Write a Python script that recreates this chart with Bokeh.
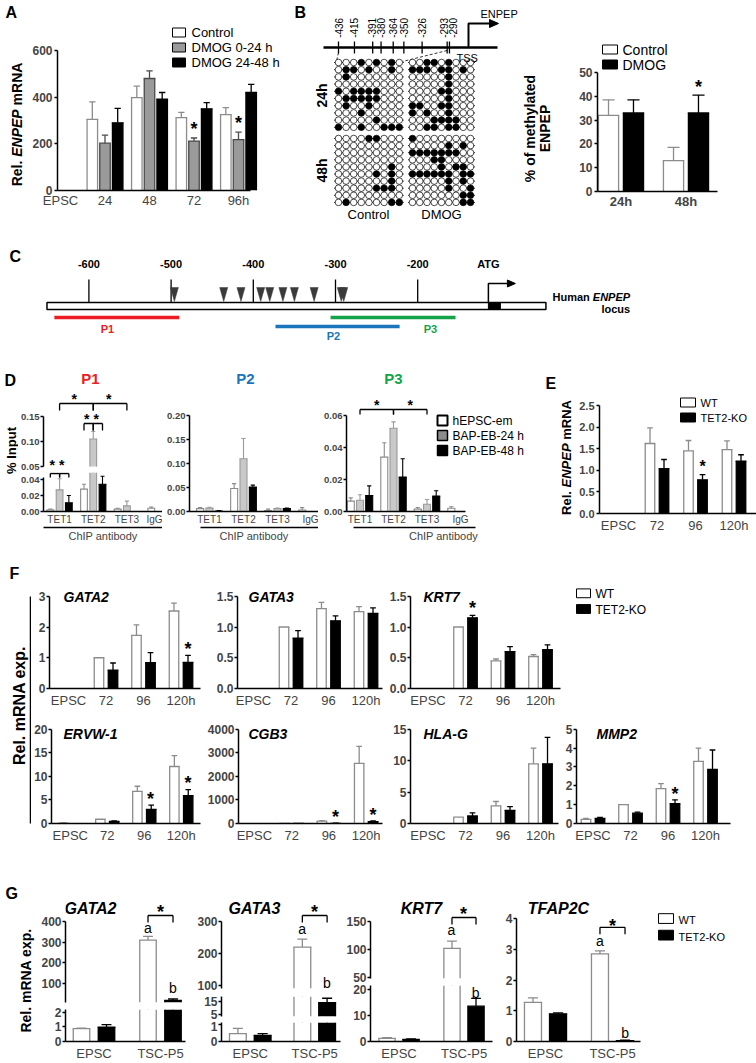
import math
from bokeh.plotting import figure
from bokeh.models import Range1d, LinearAxis, FixedTicker, Label
from bokeh.layouts import row, column
from bokeh.embed import file_html
from bokeh.resources import INLINE

FONT = "Liberation Sans"
WT_LINE = "#8c8c8c"

# ---------------- Panel A ----------------
A_groups = ["EPSC", "24", "48", "72", "96h"]
A_control = [0, 305, 398, 312, 325]
A_control_err = [0, 380, 447, 335, 355]
A_dmog_0_24 = [0, 203, 480, 212, 218]
A_dmog_0_24_err = [0, 237, 513, 225, 250]
A_dmog_24_48 = [0, 290, 392, 350, 420]
A_dmog_24_48_err = [0, 352, 420, 377, 455]
A_star_groups = [3, 4]
A_yticks = [0, 200, 400, 600]
A_legend = ["Control", "DMOG 0-24 h", "DMOG 24-48 h"]

# ---------------- Panel B ----------------
B_cpg_sites = [-436, -415, -391, -380, -364, -350, -326, -293, -290]
B_ctrl_24h = ["000101010", "011010010", "010000000", "000000000", "101111000",
              "011111000", "010010000", "000100000", "000001000", "100100111"]
B_dmog_24h = ["001101000", "111011010", "000001000", "000001000", "000011000",
              "000001000", "110011000", "101001000", "000111100", "001101100"]
B_ctrl_48h = ["000011000", "000000000", "000000000", "000000000", "000000010",
              "000001010", "000000010", "000001110", "000000000", "010000011"]
B_dmog_48h = ["100000000", "000001010", "111111100", "000110000", "000010110",
              "111111011", "000001010", "000001001", "000000011", "000000011"]
B_groups = ["24h", "48h"]
B_control = [32, 13]
B_control_err = [38.5, 18.5]
B_dmog = [33, 33]
B_dmog_err = [38.5, 40.5]
B_star_groups = [1]
B_yticks = [0, 10, 20, 30, 40, 50]

# ---------------- Panel C ----------------
C_ticks_bp = [-600, -500, -400, -300, -200]
C_cpg_bp = [-496, -436, -415, -391, -380, -364, -350, -326, -293, -290]
C_atg_bp = -114
C_locus_bp = [-651, -44]
C_primer_names = ["P1", "P2", "P3"]
C_primer_start = [-642, -373, -306]
C_primer_end = [-490, -222, -154]
C_primer_colors = ["#ee1c24", "#1b75bb", "#13a44a"]

# ---------------- Panel D ----------------
D_targets = ["TET1", "TET2", "TET3", "IgG"]
D_series = ["hEPSC-em", "BAP-EB-24 h", "BAP-EB-48 h"]
D_P1_em = [0.002, 0.028, 0.003, 0.004]
D_P1_em_err = [0.003, 0.034, 0.004, 0.0055]
D_P1_24 = [0.027, 0.105, 0.007, 0.0]
D_P1_24_err = [0.041, 0.12, 0.013, 0.0]
D_P1_48 = [0.011, 0.034, 0.0, 0.0]
D_P1_48_err = [0.02, 0.044, 0.0, 0.0]
D_P2_em = [0.006, 0.048, 0.002, 0.003]
D_P2_em_err = [0.008, 0.058, 0.005, 0.008]
D_P2_24 = [0.007, 0.11, 0.006, 0.0]
D_P2_24_err = [0.009, 0.152, 0.007, 0.0]
D_P2_48 = [0.001, 0.051, 0.006, 0.0]
D_P2_48_err = [0.002, 0.055, 0.007, 0.0]
D_P3_em = [0.0065, 0.034, 0.0015, 0.002]
D_P3_em_err = [0.0085, 0.043, 0.0025, 0.003]
D_P3_24 = [0.007, 0.052, 0.0045, 0.0]
D_P3_24_err = [0.0105, 0.056, 0.0075, 0.0]
D_P3_48 = [0.010, 0.0215, 0.0097, 0.0]
D_P3_48_err = [0.016, 0.033, 0.013, 0.0]

# ---------------- Panel E ----------------
E_groups = ["EPSC", "72", "96", "120h"]
E_wt = [0, 1.62, 1.45, 1.48]
E_wt_err = [0, 1.98, 1.69, 1.68]
E_ko = [0, 1.04, 0.78, 1.21]
E_ko_err = [0, 1.25, 0.9, 1.36]
E_star_groups = [2]
E_yticks = [0, 0.5, 1.0, 1.5, 2.0, 2.5]

# ---------------- Panel F ----------------
F_groups = ["EPSC", "72", "96", "120h"]
F_GATA2_wt = [0, 1.0, 1.73, 2.52]
F_GATA2_wt_err = [0, 1.0, 2.07, 2.78]
F_GATA2_ko = [0, 0.6, 0.84, 0.85]
F_GATA2_ko_err = [0, 0.83, 1.17, 1.08]
F_GATA3_wt = [0, 1.0, 1.3, 1.25]
F_GATA3_wt_err = [0, 1.0, 1.4, 1.33]
F_GATA3_ko = [0, 0.82, 1.1, 1.22]
F_GATA3_ko_err = [0, 0.94, 1.18, 1.31]
F_KRT7_wt = [0, 1.0, 0.45, 0.52]
F_KRT7_wt_err = [0, 1.0, 0.48, 0.55]
F_KRT7_ko = [0, 1.15, 0.6, 0.63]
F_KRT7_ko_err = [0, 1.19, 0.68, 0.71]
F_ERVW1_wt = [0.1, 0.9, 6.8, 12.1]
F_ERVW1_wt_err = [0.15, 0.9, 7.9, 14.4]
F_ERVW1_ko = [0, 0.45, 3.0, 5.9]
F_ERVW1_ko_err = [0, 0.55, 3.9, 7.2]
F_CGB3_wt = [0, 1, 100, 2550]
F_CGB3_wt_err = [0, 1, 125, 3270]
F_CGB3_ko = [0, 0.8, 5, 80]
F_CGB3_ko_err = [0, 0.8, 10, 110]
F_HLAG_wt = [0, 1.0, 2.8, 9.5]
F_HLAG_wt_err = [0, 1.0, 3.5, 12.0]
F_HLAG_ko = [0, 1.2, 2.1, 9.5]
F_HLAG_ko_err = [0, 1.7, 2.7, 13.7]
F_MMP2_wt = [0.22, 1.0, 1.85, 3.3]
F_MMP2_wt_err = [0.27, 1.0, 2.12, 4.0]
F_MMP2_ko = [0.27, 0.55, 1.05, 2.87]
F_MMP2_ko_err = [0.32, 0.6, 1.25, 3.9]

# ---------------- Panel G ----------------
G_groups = ["EPSC", "TSC-P5"]
G_GATA2_wt = [0.87, 310]
G_GATA2_wt_err = [0.9, 328]
G_GATA2_ko = [0.97, 18]
G_GATA2_ko_err = [1.15, 25]
G_GATA3_wt = [0.45, 220]
G_GATA3_wt_err = [0.75, 245]
G_GATA3_ko = [0.35, 14.2]
G_GATA3_ko_err = [0.45, 17.5]
G_KRT7_wt = [1.2, 102]
G_KRT7_wt_err = [1.5, 115]
G_KRT7_ko = [0.8, 13.5]
G_KRT7_ko_err = [1.0, 16.5]
G_TFAP2C_wt = [1.27, 2.85]
G_TFAP2C_wt_err = [1.42, 2.95]
G_TFAP2C_ko = [0.9, 0.03]
G_TFAP2C_ko_err = [0.93, 0.04]

# ======================================================================
WID = {" ": 278, ".": 278, "%": 889, "-": 333, "A": 722, "C": 722, "E": 667, "G": 778,
       "H": 722, "N": 722, "P": 667, "R": 722, "T": 611, "a": 556, "c": 556, "e": 556,
       "l": 278, "m": 889, "n": 611, "o": 611, "p": 611, "s": 556, "u": 611, "x": 556}


def tw(s, size):
    return sum(WID.get(ch, 600) for ch in s) * size / 1000.0


class Chart:
    def __init__(self, box, frame, xmap, ymap):
        X0, Y0, X1, Y1 = box
        FX0, FY0, FX1, FY1 = frame
        self.box = box
        self.ax, self.bx = xmap
        self.py0, self.v0, self.by = ymap
        self.ylo = self.y_of(FY1)
        self.yhi = self.y_of(FY0)
        self.p = figure(width=X1 - X0, height=Y1 - Y0,
                        x_range=Range1d(self.x_of(FX0), self.x_of(FX1)),
                        y_range=Range1d(self.ylo, self.yhi),
                        x_axis_type=None, y_axis_type=None, tools="",
                        toolbar_location=None, output_backend="svg",
                        min_border_left=FX0 - X0, min_border_right=X1 - FX1,
                        min_border_top=FY0 - Y0, min_border_bottom=Y1 - FY1)
        self.p.outline_line_color = None
        self.p.background_fill_color = "white"
        self.p.border_fill_color = "white"

    def x_of(self, px):
        return (px - self.ax) / self.bx

    def y_of(self, py):
        return self.v0 + (self.py0 - py) / self.by

    def px(self, x):
        return self.ax + x * self.bx

    def py(self, y):
        return self.py0 - (y - self.v0) * self.by


def canvas(box):
    return Chart(box, box, (0, 1), (0, 0, -1))


def iso(C):
    return column(C.p)


def lab(C, x, y, text, size=12, style="normal", color="black", align="left",
        baseline="middle", angle=0.0):
    C.p.add_layout(Label(x=x - C.box[0], y=y - C.box[1], x_units="canvas", y_units="canvas",
                         text=text, text_font=FONT, text_font_size=f"{size}px",
                         text_font_style=style, text_color=color, text_align=align,
                         text_baseline=baseline, angle=angle))


def parts_label(C, x, y, parts, size, vertical=False, anchor="center"):
    full = "".join(t for t, s in parts)
    total = tw(full, size)
    pos = -total / 2 if anchor == "center" else 0
    for t, s in parts:
        lead = len(t) - len(t.lstrip())
        trail = len(t) - len(t.rstrip())
        core = t.strip()
        pos += tw(" " * lead, size)
        cw = tw(core, size)
        if vertical:
            lab(C, x, y - pos - cw / 2, core, size, s, align="center", angle=math.pi / 2)
        else:
            lab(C, x + pos, y, core, size, s, align="left")
        pos += cw + tw(" " * trail, size)


def yaxis(C, ticks, labels, bounds, size=12, standoff=2):
    a = LinearAxis(ticker=FixedTicker(ticks=ticks), bounds=bounds,
                   major_label_overrides={t: l for t, l in zip(ticks, labels)})
    a.axis_line_width = 1.5
    a.axis_line_color = "black"
    a.major_tick_line_width = 1.5
    a.major_tick_out = 3
    a.major_tick_in = 0
    a.minor_tick_out = 0
    a.minor_tick_in = 0
    a.major_label_text_font = FONT
    a.major_label_text_font_size = f"{size}px"
    a.major_label_text_font_style = "bold"
    a.major_label_standoff = standoff
    C.p.add_layout(a, "left")


def xaxis(C, ticks, labels, bounds, size=13, style="normal", standoff=3):
    a = LinearAxis(ticker=FixedTicker(ticks=ticks), bounds=bounds,
                   major_label_overrides={t: l for t, l in zip(ticks, labels)})
    a.axis_line_width = 1.5
    a.axis_line_color = "black"
    a.major_tick_out = 0
    a.major_tick_in = 0
    a.minor_tick_out = 0
    a.minor_tick_in = 0
    a.major_label_text_font = FONT
    a.major_label_text_font_size = f"{size}px"
    a.major_label_text_font_style = style
    a.major_label_standoff = standoff
    C.p.add_layout(a, "below")


def underline_axis(C, bounds, text, size=11):
    a = LinearAxis(ticker=FixedTicker(ticks=[]), bounds=bounds, axis_label=text)
    a.axis_line_width = 1.5
    a.major_tick_out = 0
    a.major_tick_in = 0
    a.minor_tick_out = 0
    a.minor_tick_in = 0
    a.major_label_text_font_size = "0px"
    a.major_label_standoff = 0
    a.axis_label_text_font = FONT
    a.axis_label_text_font_size = f"{size}px"
    a.axis_label_text_font_style = "normal"
    a.axis_label_standoff = 2
    C.p.add_layout(a, "below")


def bars(C, xs, vals, errs, off, w, fill, line, lw=1.3, cap=0.6, floor=None):
    hi = C.yhi
    base = max(C.ylo, 0) if floor is None else floor
    keep = [(x + off, v, e) for x, v, e in zip(xs, vals, errs) if v > base and v > 0]
    if keep:
        bx = [k[0] for k in keep]
        bt = [min(k[1], hi) for k in keep]
        C.p.vbar(x=bx, top=bt, bottom=base, width=w, fill_color=fill, line_color=None)
        C.p.segment(x0=[x - w / 2 for x in bx] + [x + w / 2 for x in bx], y0=[base] * (2 * len(bx)),
                    x1=[x - w / 2 for x in bx] + [x + w / 2 for x in bx], y1=bt + bt,
                    line_color=line, line_width=lw)
        tops = [(x, t) for x, t, k in zip(bx, bt, keep) if k[1] < hi]
        if tops:
            C.p.segment(x0=[x - w / 2 for x, t in tops], y0=[t for x, t in tops],
                        x1=[x + w / 2 for x, t in tops], y1=[t for x, t in tops],
                        line_color=line, line_width=lw, line_cap="square")
    errk = [(x + off, v, e) for x, v, e in zip(xs, vals, errs) if e > v and e > base]
    if errk:
        ex = [k[0] for k in errk]
        C.p.segment(x0=ex, y0=[max(k[1], base) for k in errk], x1=ex,
                    y1=[min(k[2], hi) for k in errk], line_color=line, line_width=lw)
        caps = [(k[0], k[2]) for k in errk if k[2] < hi]
        if caps:
            C.p.segment(x0=[x - w * cap / 2 for x, e in caps], y0=[e for x, e in caps],
                        x1=[x + w * cap / 2 for x, e in caps], y1=[e for x, e in caps],
                        line_color=line, line_width=lw)


def star(C, x, err, gap=8, size=18):
    lab(C, C.px(x), C.py(err) - gap, "*", size, "bold", align="center")


def star_at(C, px, py, size=18):
    lab(C, px, py + size * 0.22, "*", size, "bold", align="center")


def bracket(C, xa, xb, ytop, drop=6, lw=1.3):
    yt = C.y_of(ytop)
    yd = C.y_of(ytop + drop)
    C.p.segment(x0=[xa, xa, xb], y0=[yd, yt, yt], x1=[xa, xb, xb], y1=[yt, yt, yd],
                line_color="black", line_width=lw)


def swatch(C, x0, x1, yc, h, fill, line="black", lw=1.2):
    C.p.quad(left=[C.x_of(x0)], right=[C.x_of(x1)], top=[C.y_of(yc - h / 2)],
             bottom=[C.y_of(yc + h / 2)], fill_color=fill, line_color=line, line_width=lw)


# ======================= Panel A =======================
AL = canvas((0, 0, 25, 222))
lab(AL, 5, 12, "A", 16, "bold")
parts_label(AL, 16, 124, [("Rel. ", "bold"), ("ENPEP", "bold italic"), (" mRNA", "bold")], 14,
            vertical=True)

PA = Chart((25, 0, 285, 222), (57, 20, 285, 190), (60, 44.5), (190, 0, 140 / 600))
gA = list(range(len(A_groups)))
yaxis(PA, A_yticks, [str(t) for t in A_yticks], (0, 600), 12)
xaxis(PA, gA, A_groups, (PA.x_of(57), PA.x_of(250)), 13, "normal", 2)
offA = [-0.285, 0.0, 0.285]
styleA = [("white", WT_LINE), ("#9a9a9a", "#4a4a4a"), ("black", "black")]
for (vals, errs), off, (fc, lc) in zip([(A_control, A_control_err), (A_dmog_0_24, A_dmog_0_24_err),
                                        (A_dmog_24_48, A_dmog_24_48_err)], offA, styleA):
    bars(PA, gA, vals, errs, off, 0.236, fc, lc)
for g in A_star_groups:
    star(PA, g + offA[1], A_dmog_0_24_err[g], gap=9)
for i, name in enumerate(A_legend):
    swatch(PA, 172, 185, 32 + 15 * i, 9, styleA[i][0], "black", 1.0)
    lab(PA, 191, 32 + 15 * i, name, 13)

# ======================= Panel B diagram =======================
PBd = canvas((285, 0, 560, 222))


def bpx(bp):
    return 338 + (bp + 436) * 0.76


pb = PBd.p
pb.segment(x0=[323], y0=[47], x1=[497], y1=[47], line_color="black", line_width=2.5)
cpx = [bpx(b) for b in B_cpg_sites]
nB = len(cpx)
pb.segment(x0=cpx, y0=[41] * nB, x1=cpx, y1=[53] * nB, line_color="black", line_width=1.3)
lpx = list(cpx)
for i in range(1, nB):
    if lpx[i] - lpx[i - 1] < 9:
        mid = (lpx[i] + lpx[i - 1]) / 2
        lpx[i - 1] = mid - 4.5
        lpx[i] = mid + 4.5
for b, x in zip(B_cpg_sites, lpx):
    s = str(b)
    lab(PBd, x, 38 - tw(s, 10) / 2, s, 10, align="center", angle=math.pi / 2)
pb.line(x=[468, 468, 490], y=[47, 23, 23], line_color="black", line_width=2)
pb.patches(xs=[[489, 489, 498]], ys=[[19, 27, 23]], fill_color="black", line_color="black")
lab(PBd, 480, 13, "ENPEP", 11)
lab(PBd, 456, 57, "TSS", 11)
pb.segment(x0=[cpx[0], cpx[-2]], y0=[52, 50], x1=[336, 402], y1=[61, 61], line_dash="3 2",
           line_color="black", line_width=0.8)


def dot_grid(C, pattern, x0, dx, y0, dy):
    xs, ys, fills = [], [], []
    nrow = len(pattern)
    ncol = len(pattern[0])
    for i, rp in enumerate(pattern):
        for j, ch in enumerate(rp):
            xs.append(x0 + j * dx)
            ys.append(y0 + i * dy)
            fills.append("black" if ch == "1" else "white")
    ry = [y0 + i * dy for i in range(nrow)]
    C.p.segment(x0=[x0 - 4.5] * nrow, y0=ry, x1=[x0 + (ncol - 1) * dx + 4.5] * nrow, y1=ry,
                line_color="black", line_width=0.8)
    C.p.scatter(x=xs, y=ys, size=6.6, marker="circle", fill_color=fills, line_color="black",
                line_width=0.7)


dot_grid(PBd, B_ctrl_24h, 338, 7.6, 62, 7.2)
dot_grid(PBd, B_dmog_24h, 412, 7.25, 62, 7.2)
dot_grid(PBd, B_ctrl_48h, 338, 7.6, 138, 7.1)
dot_grid(PBd, B_dmog_48h, 412, 7.25, 138, 7.1)
lab(PBd, 321, 95, "24h", 14, "bold", align="center", angle=math.pi / 2)
lab(PBd, 321, 170, "48h", 14, "bold", align="center", angle=math.pi / 2)
lab(PBd, 368, 214, "Control", 13, align="center")
lab(PBd, 441, 214, "DMOG", 13, align="center")
lab(PBd, 294, 12, "B", 16, "bold")
lab(PBd, 529, 128, "% of methylated", 14, "bold", align="center", angle=math.pi / 2)
lab(PBd, 544, 128, "ENPEP", 14, "bold", align="center", angle=math.pi / 2)

# ======================= Panel B chart =======================
PB = Chart((560, 0, 756, 222), (597, 30, 756, 191), (620.5, 65), (191, 0, 119 / 50))
gB = list(range(len(B_groups)))
yaxis(PB, B_yticks, [str(t) for t in B_yticks], (0, 50), 12)
xaxis(PB, gB, B_groups, (PB.x_of(597), PB.x_of(717)), 13, "bold", 2)
bars(PB, gB, B_control, B_control_err, -0.192, 0.31, "white", WT_LINE)
bars(PB, gB, B_dmog, B_dmog_err, 0.192, 0.31, "black", "black")
for g in B_star_groups:
    star(PB, g + 0.192, B_dmog_err[g], gap=8)
swatch(PB, 602, 617, 49, 9, "white", "black", 1.0)
swatch(PB, 602, 617, 64, 9, "black", "black", 1.0)
lab(PB, 622, 49, "Control", 14)
lab(PB, 622, 64, "DMOG", 14)

# ======================= Panel C =======================
CS = 0.822
PC = Chart((0, 222, 756, 340), (0, 222, 756, 340), (88.4 + 600 * CS, CS), (0, 0, -1))
pc = PC.p
nT = len(C_ticks_bp)
pc.segment(x0=C_ticks_bp, y0=[279] * nT, x1=C_ticks_bp, y1=[302] * nT, line_color="black",
           line_width=1.3)
pc.quad(left=[C_locus_bp[0]], right=[C_locus_bp[1]], top=[302], bottom=[309], fill_color="white",
        line_color="black", line_width=1.5)
hw = 4.0 / CS
pc.patches(xs=[[b - hw, b + hw, b] for b in C_cpg_bp], ys=[[287, 287, 301]] * len(C_cpg_bp),
           fill_color="#3a3a3a", line_color="#3a3a3a", line_width=0.5)
a0 = C_atg_bp
pc.quad(left=[a0], right=[a0 + 12 / CS], top=[302], bottom=[309], fill_color="black",
        line_color="black")
pc.line(x=[a0, a0, a0 + 20 / CS], y=[302, 283, 283], line_color="black", line_width=1.5)
pc.patches(xs=[[a0 + 19 / CS, a0 + 19 / CS, a0 + 27 / CS]], ys=[[279.5, 286.5, 283]],
           fill_color="black", line_color="black")
for t in C_ticks_bp:
    lab(PC, PC.px(t), 263, str(t), 11, "bold", align="center")
lab(PC, PC.px(a0), 263, "ATG", 11, "bold", align="center")
prim_y = [317, 326, 317]
prim_lx = [107, 333, 430]
prim_ly = [328, 335, 328]
for nm, s, e, col, yy, lx, ly in zip(C_primer_names, C_primer_start, C_primer_end,
                                     C_primer_colors, prim_y, prim_lx, prim_ly):
    pc.segment(x0=[s], y0=[yy], x1=[e], y1=[yy], line_color=col, line_width=3.5)
    lab(PC, lx, ly, nm, 11, "bold", col, "center")
lab(PC, 9, 256, "C", 16, "bold")
parts_label(PC, 552, 296, [("Human ", "bold"), ("ENPEP", "bold italic")], 11, anchor="left")
lab(PC, 552 + tw("Human ENPEP", 11), 308, "locus", 11, "bold", align="right")

# ======================= Panel D =======================
DL = canvas((0, 340, 18, 548))
lab(DL, 4, 380, "D", 16, "bold")
lab(DL, 11, 450, "% Input", 13, "bold", align="center", angle=math.pi / 2)

gD = list(range(len(D_targets)))
offD = [-0.275, 0.0, 0.275]
styleD = [("white", WT_LINE), ("#c8c8c8", "#9a9a9a"), ("black", "black")]


def d_bars(C, sets, w, floor=None):
    for (vals, errs), off, (fc, lc) in zip(sets, offD, styleD):
        bars(C, gD, vals, errs, off, w, fc, lc, lw=1.1, floor=floor)


P1sets = [(D_P1_em, D_P1_em_err), (D_P1_24, D_P1_24_err), (D_P1_48, D_P1_48_err)]
P1u = Chart((18, 340, 162, 472), (40, 368, 162, 471), (56.5, 34.5), (466, 0.05, 500))
P1l = Chart((18, 472, 162, 548), (40, 472, 162, 511), (56.5, 34.5), (511, 0, 800))
yaxis(P1u, [0.05, 0.10, 0.15], ["0.05", "0.10", "0.15"], (0.05, 0.15), 9.5, 1)
yaxis(P1l, [0, 0.02, 0.04], ["0.00", "0.02", "0.04"], (0, 0.043), 9.5, 1)
xaxis(P1l, gD, D_targets, (P1l.x_of(40), P1l.x_of(162)), 10, "normal", 2)
underline_axis(P1l, (P1l.x_of(40), P1l.x_of(162)), "ChIP antibody")
d_bars(P1u, P1sets, 0.2, floor=0.05)
d_bars(P1l, P1sets, 0.2)
bracket(P1l, offD[0], offD[1], 473, 4)
bracket(P1l, offD[1], offD[2], 473, 4)
star_at(P1u, P1u.px((offD[0] + offD[1]) / 2), 461, 14)
star_at(P1u, P1u.px((offD[1] + offD[2]) / 2), 461, 14)
bracket(P1u, 1 + offD[0], 1 + offD[1], 423, 7)
bracket(P1u, 1 + offD[1], 1 + offD[2], 423, 7)
star_at(P1u, P1u.px(1 + (offD[0] + offD[1]) / 2), 415, 14)
star_at(P1u, P1u.px(1 + (offD[1] + offD[2]) / 2), 415, 14)
bracket(P1u, 0 + offD[1], 1 + offD[1], 403, 7)
bracket(P1u, 1 + offD[1], 2 + offD[1], 403, 7)
star_at(P1u, P1u.px(0.5), 395, 14)
star_at(P1u, P1u.px(1.5), 395, 14)
lab(P1u, 90, 378, "P1", 15, "bold", C_primer_colors[0], "center")

P2 = Chart((162, 340, 318, 548), (189, 368, 318, 511), (209, 34), (511, 0, 480))
yaxis(P2, [0, 0.05, 0.10, 0.15, 0.20], ["0.00", "0.05", "0.10", "0.15", "0.20"], (0, 0.2), 9.5, 1)
xaxis(P2, gD, D_targets, (P2.x_of(189), P2.x_of(318)), 10, "normal", 2)
underline_axis(P2, (P2.x_of(200), P2.x_of(318)), "ChIP antibody")
d_bars(P2, [(D_P2_em, D_P2_em_err), (D_P2_24, D_P2_24_err), (D_P2_48, D_P2_48_err)], 7 / 34)
lab(P2, 245, 378, "P2", 15, "bold", C_primer_colors[1], "center")

P3 = Chart((318, 340, 540, 548), (346, 368, 540, 511), (359.5, 33.5), (511, 0, 1600))
yaxis(P3, [0, 0.02, 0.04, 0.06], ["0.00", "0.02", "0.04", "0.06"], (0, 0.06), 9.5, 1)
xaxis(P3, gD, D_targets, (P3.x_of(346), P3.x_of(465)), 10, "normal", 2)
underline_axis(P3, (P3.x_of(353), P3.x_of(475)), "ChIP antibody")
d_bars(P3, [(D_P3_em, D_P3_em_err), (D_P3_24, D_P3_24_err), (D_P3_48, D_P3_48_err)], 7 / 33.5)
bracket(P3, 0 + offD[1], 1 + offD[1], 409, 5)
bracket(P3, 1 + offD[1], 2 + offD[1], 409, 5)
star_at(P3, P3.px(0.5), 401, 14)
star_at(P3, P3.px(1.5), 401, 14)
lab(P3, 393, 378, "P3", 15, "bold", C_primer_colors[2], "center")
legD = [("white", 2.0), ("#8c8c8c", 1.5), ("black", 1.5)]
for i, name in enumerate(D_series):
    swatch(P3, 437, 447, 420 + 15 * i, 10, legD[i][0], "black", legD[i][1])
    lab(P3, 452, 420 + 15 * i, name, 12)

# ======================= Panel E =======================
EL = canvas((540, 340, 575, 548))
lab(EL, 545, 383, "E", 16, "bold")
parts_label(EL, 566, 457, [("Rel. ", "bold"), ("ENPEP", "bold italic"), (" mRNA", "bold")], 13,
            vertical=True)

PE = Chart((575, 340, 756, 548), (599, 395, 756, 513), (618, 38.5), (513, 0, 43.2))
gE = list(range(len(E_groups)))
yaxis(PE, E_yticks, ["0.0", "0.5", "1.0", "1.5", "2.0", "2.5"], (0, 2.5), 11)
xaxis(PE, gE, E_groups, (PE.x_of(599), PE.x_of(756)), 13, "normal", 4)
bars(PE, gE, E_wt, E_wt_err, -0.182, 0.247, "white", WT_LINE)
bars(PE, gE, E_ko, E_ko_err, 0.182, 0.247, "black", "black")
for g in E_star_groups:
    star(PE, g + 0.182, E_ko_err[g], gap=8, size=16)
swatch(PE, 680, 695, 402, 9, "white", "black", 1.0)
swatch(PE, 680, 695, 417, 9, "black", "black", 1.0)
lab(PE, 700, 402, "WT", 11)
lab(PE, 700, 417, "TET2-KO", 11)

# ======================= Panel F =======================
FL = canvas((0, 548, 31, 845))
FL.p.segment(x0=[30], y0=[596], x1=[30], y1=[823], line_color="black", line_width=1.5)
lab(FL, 9, 573, "F", 16, "bold")
lab(FL, 19, 705, "Rel. mRNA exp.", 16, "bold", align="center", angle=math.pi / 2)

gF = list(range(len(F_groups)))


def fpanel(box, frame, x0px, ymap, ticks, labels, axis_end, wt, wt_err, ko, ko_err, title,
           title_x, title_y, star_idx):
    C = Chart(box, frame, (x0px, 37.5), ymap)
    yaxis(C, ticks, labels, (0, ticks[-1]), 12, 1)
    xaxis(C, gF, F_groups, (C.x_of(frame[0]), C.x_of(axis_end)), 13, "normal", 4)
    bars(C, gF, wt, wt_err, -0.187, 0.253, "white", WT_LINE)
    bars(C, gF, ko, ko_err, 0.187, 0.253, "black", "black")
    for i in star_idx:
        star(C, gF[i] + 0.187, ko_err[i], gap=8)
    lab(C, title_x, title_y, title, 14, "bold italic")
    return C


t_half = [0, 0.5, 1.0, 1.5]
l_half = ["0.0", "0.5", "1.0", "1.5"]
F1 = fpanel((31, 548, 210, 710), (49, 583, 210, 690), 68, (690, 0, 31.33), [0, 1, 2, 3],
            ["0", "1", "2", "3"], 200, F_GATA2_wt, F_GATA2_wt_err, F_GATA2_ko, F_GATA2_ko_err,
            "GATA2", 63, 596, [3])
F2 = fpanel((210, 548, 385, 710), (237, 583, 385, 690), 253, (690, 0, 62.67), t_half, l_half, 382,
            F_GATA3_wt, F_GATA3_wt_err, F_GATA3_ko, F_GATA3_ko_err, "GATA3", 248, 596, [])
F3 = fpanel((385, 548, 756, 710), (410, 583, 756, 690), 427.5, (690, 0, 62.67), t_half, l_half, 560,
            F_KRT7_wt, F_KRT7_wt_err, F_KRT7_ko, F_KRT7_ko_err, "KRT7", 423, 596, [1])
swatch(F3, 576, 590, 593, 9, "white", "black", 1.0)
swatch(F3, 576, 590, 609, 9, "black", "black", 1.0)
lab(F3, 595, 593, "WT", 12)
lab(F3, 595, 609, "TET2-KO", 12)
F4 = fpanel((31, 710, 204, 845), (49, 715, 204, 825), 68, (825, 0, 4.8), [0, 5, 10, 15, 20],
            ["0", "5", "10", "15", "20"], 200, F_ERVW1_wt, F_ERVW1_wt_err, F_ERVW1_ko,
            F_ERVW1_ko_err, "ERVW-1", 63, 733, [2, 3])
F5 = fpanel((204, 710, 385, 845), (237, 715, 385, 825), 253, (825, 0, 0.024),
            [0, 1000, 2000, 3000, 4000], ["0", "1000", "2000", "3000", "4000"], 382, F_CGB3_wt,
            F_CGB3_wt_err, F_CGB3_ko, F_CGB3_ko_err, "CGB3", 248, 733, [2, 3])
F6 = fpanel((385, 710, 560, 845), (410, 715, 560, 825), 427.5, (825, 0, 6.4), [0, 5, 10, 15],
            ["0", "5", "10", "15"], 558, F_HLAG_wt, F_HLAG_wt_err, F_HLAG_ko, F_HLAG_ko_err,
            "HLA-G", 423, 733, [])
F7 = fpanel((560, 710, 756, 845), (576, 715, 756, 825), 592.5, (825, 0, 19.2), [0, 1, 2, 3, 4, 5],
            ["0", "1", "2", "3", "4", "5"], 730, F_MMP2_wt, F_MMP2_wt_err, F_MMP2_ko,
            F_MMP2_ko_err, "MMP2", 596, 733, [2])

# ======================= Panel G =======================
GL = canvas((0, 845, 35, 1063))
lab(GL, 5, 893, "G", 16, "bold")
lab(GL, 25, 980, "Rel. mRNA exp.", 14, "bold", align="center", angle=math.pi / 2)

gG = list(range(len(G_groups)))


def gseg(box, frame, xmap, ymap, ticks, bounds, wt, wt_err, ko, ko_err, off, w, xlabels=False,
         axis_end=None):
    C = Chart(box, frame, xmap, ymap)
    yaxis(C, ticks, [str(t) for t in ticks], bounds, 12, 1)
    bars(C, gG, wt, wt_err, -off, w, "white", WT_LINE)
    bars(C, gG, ko, ko_err, off, w, "black", "black")
    if xlabels:
        xaxis(C, gG, G_groups, (C.x_of(frame[0]), C.x_of(axis_end)), 13, "normal", 4)
    return C


def g_annot(C, off, ytop, star_y, a_y, title, title_x):
    bracket(C, 1 - off, 1 + off, ytop, 7)
    star_at(C, C.px(1), star_y, 18)
    lab(C, C.px(1 - off), a_y, "a", 14, align="center")
    lab(C, title_x, 908, title, 16, "bold italic", align="center")


o1, w1 = 0.188, 0.248
G1u = gseg((35, 845, 194, 1007), (65, 880, 194, 1002), (93.5, 66.5), (983, 100, 0.2067),
           [100, 200, 300, 400], (8, 400), G_GATA2_wt, G_GATA2_wt_err, G_GATA2_ko,
           G_GATA2_ko_err, o1, w1)
G1l = gseg((35, 1007, 194, 1063), (65, 1009, 194, 1046), (93.5, 66.5), (1046, 0, 17), [0, 1, 2],
           (0, 2.18), G_GATA2_wt, G_GATA2_wt_err, G_GATA2_ko, G_GATA2_ko_err, o1, w1, True, 185)
g_annot(G1u, o1, 915, 908, 927, "GATA2", 90)
lab(G1u, G1u.px(1 + o1), 987, "b", 14, align="center")

o2, w2 = 0.192, 0.26
G2u = gseg((194, 845, 343, 992), (220, 880, 343, 988), (249, 65), (985, 100, 0.32), [100, 200, 300],
           (91, 300), G_GATA3_wt, G_GATA3_wt_err, G_GATA3_ko, G_GATA3_ko_err, o2, w2)
G2m = gseg((194, 992, 343, 1021), (220, 996, 343, 1016), (249, 65), (1001, 15, 1.3), [5, 15],
           (3.5, 18.5), G_GATA3_wt, G_GATA3_wt_err, G_GATA3_ko, G_GATA3_ko_err, o2, w2)
G2l = gseg((194, 1021, 343, 1063), (220, 1022, 343, 1046), (249, 65), (1046, 0, 22), [0, 1],
           (0, 1.08), G_GATA3_wt, G_GATA3_wt_err, G_GATA3_ko, G_GATA3_ko_err, o2, w2, True, 340)
g_annot(G2u, o2, 915, 908, 928, "GATA3", 254)
lab(G2u, G2u.px(1 + o2), 982, "b", 14, align="center")

o3, w3 = 0.185, 0.25
G3u = gseg((343, 845, 495, 984), (368, 880, 495, 978), (397, 66), (977, 50, 0.56), [50, 100, 150],
           (48, 150), G_KRT7_wt, G_KRT7_wt_err, G_KRT7_ko, G_KRT7_ko_err, o3, w3)
G3l = gseg((343, 984, 495, 1063), (368, 985, 495, 1046), (397, 66), (1046, 0, 2.85), [0, 10, 20],
           (0, 21.3), G_KRT7_wt, G_KRT7_wt_err, G_KRT7_ko, G_KRT7_ko_err, o3, w3, True, 492)
g_annot(G3u, o3, 917, 910, 929, "KRT7", 421)
lab(G3l, G3l.px(1 + o3), 992, "b", 14, align="center")

o4, w4 = 0.187, 0.254
G4 = gseg((495, 845, 756, 1063), (516, 880, 756, 1045), (545, 67), (1045, 0, 31.5), [0, 1, 2, 3, 4],
          (0, 4), G_TFAP2C_wt, G_TFAP2C_wt_err, G_TFAP2C_ko, G_TFAP2C_ko_err, o4, w4, True, 640)
g_annot(G4, o4, 928, 922, 940, "TFAP2C", 558)
lab(G4, G4.px(1 + o4), 1032, "b", 14, align="center")
swatch(G4, 658, 673, 919, 10, "white", "black", 1.0)
swatch(G4, 658, 673, 936, 10, "black", "black", 1.0)
lab(G4, 678, 919, "WT", 11)
lab(G4, 678, 936, "TET2-KO", 11)

# ======================= Layout =======================
page = column(
    row(iso(AL), iso(PA), iso(PBd), iso(PB)),
    iso(PC),
    row(iso(DL), column(P1u.p, P1l.p), iso(P2), iso(P3), iso(EL), iso(PE)),
    row(iso(FL), column(row(iso(F1), iso(F2), iso(F3)), row(iso(F4), iso(F5), iso(F6), iso(F7)))),
    row(iso(GL), column(G1u.p, G1l.p), column(G2u.p, G2m.p, G2l.p), column(G3u.p, G3l.p), iso(G4)),
)

open("out.html", "w").write(file_html(page, INLINE, "Figure"))
